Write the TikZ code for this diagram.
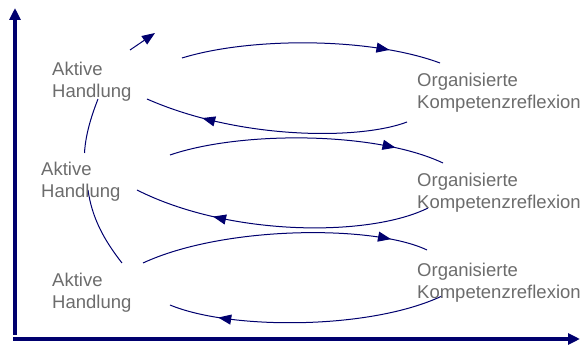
\documentclass[tikz,border=0pt]{standalone}
\usepackage{fontspec}
\setmainfont{Liberation Sans}
\usetikzlibrary{arrows.meta,decorations.markings}
\definecolor{navy}{RGB}{0,0,110}
\definecolor{txtgray}{RGB}{108,108,108}
\tikzset{
  axisline/.style={draw=navy,line width=4pt,-{Triangle[length=12pt,width=11pt]}},
  label/.style={anchor=north west,inner sep=0pt,align=left,text=txtgray,font=\fontsize{18.5}{22}\selectfont},
  flow/.style={draw=navy,line width=1pt},
  midarrow/.style={postaction={decorate},decoration={markings,mark=at position #1 with {\arrow{Triangle[length=13pt,width=10pt]}}}},
  tiparrow/.style={-{Triangle[length=13pt,width=10pt]}}
}
\begin{document}
\begin{tikzpicture}[x=1pt,y=-1pt]
\useasboundingbox (0,0) rectangle (582,347);
% axes
\coordinate (o1) at (15,335);
\coordinate (ytop) at (15,8);
\coordinate (o2) at (13,339);
\coordinate (xend) at (580,339);
\draw[axisline] (o1) -- (ytop);
\draw[axisline] (o2) -- (xend);
% vertical arcs between actions
\coordinate (v1) at (98,99);
\coordinate (v2) at (84.5,153);
\coordinate (v3) at (88,190);
\coordinate (v4) at (122,263);
\draw[flow] (v1) .. controls (91,117) and (85.5,135) .. (v2);
\draw[flow] (v3) .. controls (92,218) and (104,240) .. (v4);
% top small arrow
\coordinate (s1) at (130,50);
\coordinate (s2) at (155,33);
\draw[flow,tiparrow] (s1) -- (s2);
% forward / return arcs
\coordinate (f1a) at (182,58);  \coordinate (f1b) at (440,63);
\coordinate (r1a) at (407,122); \coordinate (r1b) at (147,99);
\coordinate (f2a) at (170,155); \coordinate (f2b) at (443,163);
\coordinate (r2a) at (428,208); \coordinate (r2b) at (137,190);
\coordinate (f3a) at (143,263); \coordinate (f3b) at (427,250);
\coordinate (r3a) at (442,296); \coordinate (r3b) at (170,305);
\draw[flow,midarrow=0.8]  (f1a) .. controls (250,37) and (370,37) .. (f1b);
\draw[flow,midarrow=0.78] (r1a) .. controls (360,140) and (240,140) .. (r1b);
\draw[flow,midarrow=0.82] (f2a) .. controls (240,131) and (375,131) .. (f2b);
\draw[flow,midarrow=0.73] (r2a) .. controls (370,237) and (230,237) .. (r2b);
\draw[flow,midarrow=0.87] (f3a) .. controls (225,225) and (375,225) .. (f3b);
\draw[flow,midarrow=0.82] (r3a) .. controls (370,330) and (230,330) .. (r3b);
% labels
\node[label] (a1) at (52,62) {Aktive\\Handlung};
\node[label] (a2) at (41,162) {Aktive\\Handlung};
\node[label] (a3) at (52,273) {Aktive\\Handlung};
\node[label] (k1) at (417,73) {Organisierte\\Kompetenzreflexion};
\node[label] (k2) at (417,173) {Organisierte\\Kompetenzreflexion};
\node[label] (k3) at (417,263) {Organisierte\\Kompetenzreflexion};
\end{tikzpicture}
\end{document}
